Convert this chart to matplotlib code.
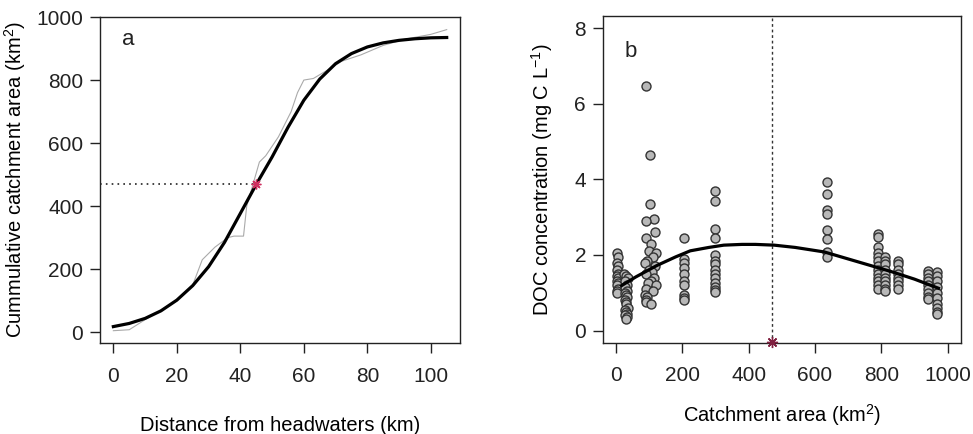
import matplotlib
matplotlib.use("Agg")
import matplotlib.pyplot as plt
import numpy as np

plt.rcParams['font.family'] = ['Liberation Sans', 'DejaVu Sans']
plt.rcParams['mathtext.fontset'] = 'custom'
plt.rcParams['mathtext.rm'] = 'Liberation Sans'
plt.rcParams['mathtext.it'] = 'Liberation Sans'
plt.rcParams['text.color'] = '#222222'

# panel a: cumulative catchment area along the river
dist_fit = [0, 5, 10, 15, 20, 25, 30, 35, 40, 45, 50, 55, 60, 65, 70, 75, 80, 85, 90, 95, 100, 105]
area_fit = [18, 28, 44, 68, 102, 148, 208, 285, 377, 469, 556, 650, 736, 803, 852, 884, 905, 918, 926, 931, 934, 935]

dist_obs = [0, 5, 10, 15, 20, 25, 28, 32, 36, 38, 41, 42, 44, 46, 48, 52, 56, 58, 60, 63, 68, 72, 78, 85, 92, 100, 105]
area_obs = [5, 8, 40, 70, 100, 150, 230, 270, 300, 305, 305, 400, 470, 540, 560, 620, 700, 760, 800, 805, 835, 860, 880, 910, 930, 945, 960]

mid_dist = 45
mid_area = 470

# panel b: DOC vs catchment area
area_b = ([2, 5, 3, 6, 2, 5, 3, 6, 2, 5, 3, 6, 4, 2] +
          [25, 30, 35, 27, 32, 28, 34, 26, 30, 33, 27, 31, 29, 35, 26, 30, 32, 28, 34, 30] +
          [90, 103, 103, 115, 92, 118, 90, 105, 100, 120, 112, 95, 88, 118, 100, 108, 92, 115, 105, 98, 120, 90, 112, 88, 95, 90, 92, 105] +
          [205, 205, 205, 205, 205, 205, 205, 205, 205, 205] +
          [300, 300, 300, 300, 300, 300, 300, 300, 300, 300, 300, 300, 300, 300] +
          [636, 636, 636, 636, 636, 636, 636, 636] +
          [790, 790, 790, 790, 790, 790, 790, 790, 790, 790, 790, 790, 790] +
          [810, 810, 810, 810, 810, 810, 810, 810, 810, 810] +
          [850, 850, 850, 850, 850, 850, 850, 850] +
          [941, 941, 941, 941, 941, 941, 941, 941, 941] +
          [967, 967, 967, 967, 967, 967, 967, 967, 967, 967])
doc_b = ([2.05, 1.95, 1.8, 1.7, 1.6, 1.5, 1.45, 1.4, 1.3, 1.25, 1.2, 1.1, 1.05, 1.0] +
         [1.5, 1.45, 1.4, 1.3, 1.2, 1.15, 1.05, 1.0, 0.95, 0.9, 0.8, 0.75, 0.7, 0.6, 0.55, 0.5, 0.45, 0.4, 0.35, 0.3] +
         [6.48, 4.64, 3.34, 2.95, 2.9, 2.6, 2.45, 2.3, 2.1, 2.05, 1.95, 1.85, 1.8, 1.7, 1.6, 1.55, 1.5, 1.4, 1.3, 1.25, 1.2, 1.1, 1.05, 0.95, 0.9, 0.8, 0.75, 0.7] +
         [2.45, 1.9, 1.8, 1.65, 1.5, 1.3, 1.2, 0.95, 0.85, 0.8] +
         [3.7, 3.43, 2.68, 2.46, 2.0, 1.85, 1.75, 1.6, 1.5, 1.4, 1.25, 1.15, 1.08, 1.03] +
         [3.93, 3.6, 3.2, 3.08, 2.66, 2.42, 2.07, 1.94] +
         [2.55, 2.47, 2.2, 2.05, 1.95, 1.85, 1.7, 1.6, 1.5, 1.4, 1.3, 1.2, 1.1] +
         [1.95, 1.85, 1.75, 1.6, 1.5, 1.4, 1.3, 1.2, 1.1, 1.05] +
         [1.85, 1.75, 1.6, 1.5, 1.4, 1.3, 1.2, 1.1] +
         [1.58, 1.5, 1.4, 1.3, 1.2, 1.1, 1.0, 0.9, 0.84] +
         [1.55, 1.45, 1.3, 1.15, 1.0, 0.85, 0.7, 0.6, 0.5, 0.45])

area_curve = [17, 60, 123, 180, 224, 280, 325, 380, 420, 477, 540, 628, 729, 830, 900, 972]
doc_curve = [1.19, 1.42, 1.72, 1.95, 2.11, 2.2, 2.26, 2.28, 2.28, 2.26, 2.2, 2.08, 1.82, 1.56, 1.36, 1.12]

fs_tick = 15
fs_lab = 14.5
fig = plt.figure(figsize=(9.73, 4.34), dpi=100)
ax1 = fig.add_axes([0.1028, 0.2097, 0.37, 0.7511])
ax2 = fig.add_axes([0.6194, 0.2104, 0.3683, 0.7526])

for ax in (ax1, ax2):
    for s in ax.spines.values():
        s.set_linewidth(1.0)
        s.set_color('#222222')
    ax.tick_params(direction='out', length=7, width=1, labelsize=fs_tick, colors='#222222')
    ax.tick_params(axis='x', pad=10)
    ax.tick_params(axis='y', pad=5)

# --- panel a
ax1.plot(dist_obs, area_obs, color='#aaaaaa', lw=0.8)
ax1.plot(dist_fit, area_fit, color='black', lw=2.3)
ax1.plot([-4.2, mid_dist], [mid_area, mid_area], color='#222222', lw=1.2, ls=(0, (1, 2.5)))
ax1.plot(mid_dist, mid_area, marker=(8, 2, 0), color='#d03060', ms=7, mew=1)
ax1.set_xlim(-4.2, 109.2)
ax1.set_ylim(-34, 1000)
ax1.set_xticks([0, 20, 40, 60, 80, 100])
ax1.set_yticks([0, 200, 400, 600, 800, 1000])
ax1.set_xlabel('Distance from headwaters (km)', fontsize=fs_lab, labelpad=22)
ax1.set_ylabel('Cummulative catchment area (km$^{2}$)', fontsize=fs_lab, labelpad=6)
ax1.text(0.06, 0.93, 'a', transform=ax1.transAxes, fontsize=16, va='center')

# --- panel b
ax2.scatter(area_b, doc_b, s=42, facecolor='#b8b8b8', edgecolor='#333333', linewidths=1.0, zorder=3)
ax2.plot(area_curve, doc_curve, color='black', lw=2.3, zorder=4)
ax2.axvline(mid_area, color='#333333', lw=1.0, ls=(0, (2, 2)))
ax2.plot(mid_area, -0.3, marker=(8, 2, 0), color='#802040', ms=8, mew=1, clip_on=False, zorder=5)
ax2.set_xlim(-40, 1040)
ax2.set_ylim(-0.32, 8.32)
ax2.set_xticks([0, 200, 400, 600, 800, 1000])
ax2.set_yticks([0, 2, 4, 6, 8])
ax2.set_xlabel('Catchment area (km$^{2}$)', fontsize=fs_lab, labelpad=12)
ax2.set_ylabel('DOC concentration (mg C L$^{-1}$)', fontsize=fs_lab, labelpad=14)
ax2.text(0.06, 0.89, 'b', transform=ax2.transAxes, fontsize=16, va='center')

fig.savefig('out.png', dpi=100)
